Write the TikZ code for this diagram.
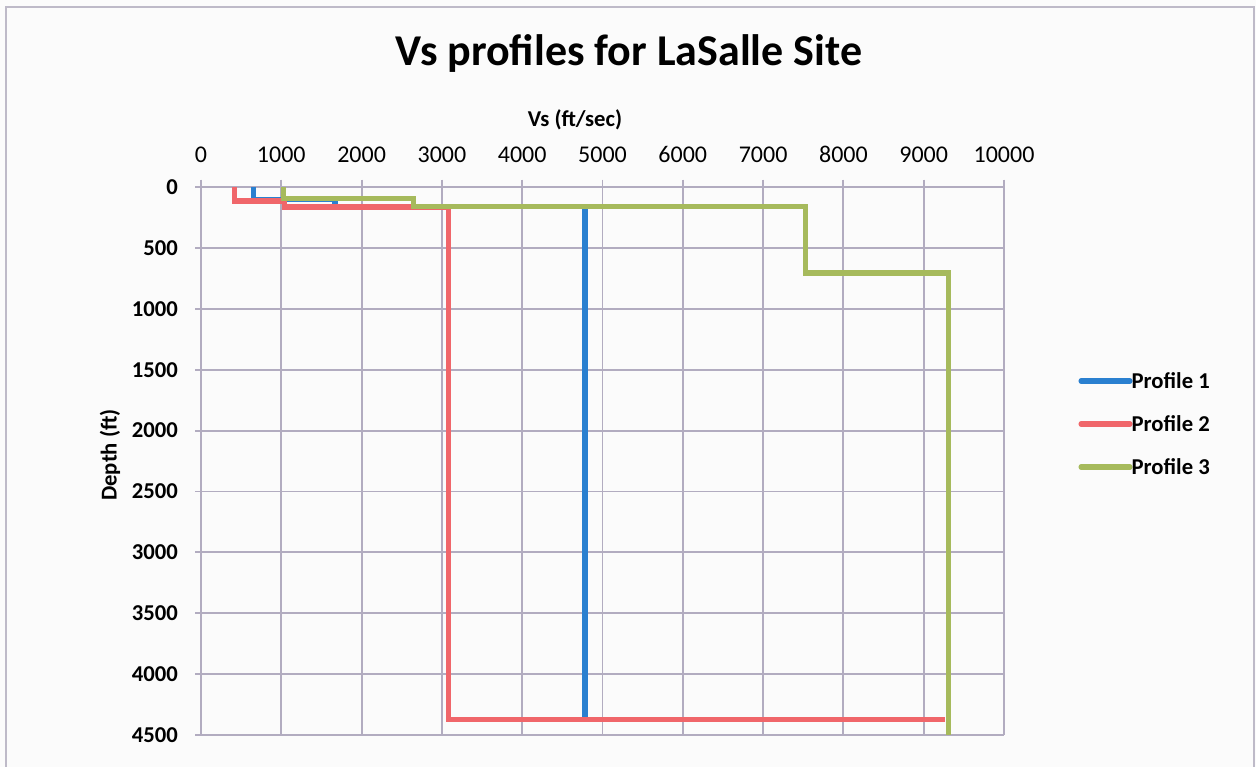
\documentclass[tikz,border=0pt]{standalone}
\usepackage{fontspec}
\setmainfont{Carlito}
\definecolor{gridgray}{RGB}{178,172,192}
\definecolor{frameGray}{RGB}{190,186,200}
\definecolor{bgwhite}{RGB}{251,251,251}
\definecolor{prof1}{RGB}{42,128,208}
\definecolor{prof2}{RGB}{240,102,106}
\definecolor{prof3}{RGB}{166,186,92}
\tikzset{
  gridline/.style={gridgray,line width=1.4pt},
  ticklab/.style={font=\fontsize{18}{20}\selectfont},
  axtitle/.style={font=\bfseries\fontsize{17}{20}\selectfont},
  profile/.style={line width=4pt,line join=miter},
  legline/.style={line width=3.8pt,line cap=round}
}
\begin{document}
\begin{tikzpicture}[x=0.75pt,y=-0.75pt]
  \useasboundingbox[fill=bgwhite] (0,0) rectangle (1256,767);
  \draw[frameGray,line width=1.5pt] (6,775) -- (6,7) -- (1254,7) -- (1254,775);
  \node[font=\bfseries\fontsize{33}{38}\selectfont] (title) at (629,53) {Vs profiles for LaSalle Site};
  \node[axtitle] (xtitle) at (575,120) {Vs (ft/sec)};
  \node[axtitle,rotate=90] (ytitle) at (110,455) {Depth (ft)};
  % data area
  \begin{scope}[shift={(201,187)},x={(0.060225pt,0)},y={(0,-0.09135pt)}]
    \foreach \v in {0,1000,...,10000} {
      \draw[gridline] (\v,-60) -- (\v,4500);
      \node[ticklab] (xl\v) at (\v,-265) {\v};
    }
    \foreach \d in {0,500,...,4500} {
      \draw[gridline] (-70,\d) -- (10000,\d);
      \node[ticklab,font=\bfseries\fontsize{17}{20}\selectfont,anchor=east] (yl\d) at (-230,\d) {\d};
    }
    \draw[profile,prof1] (650,0) -- (650,100) -- (1670,100) -- (1670,160)
      -- (4780,160) -- (4780,4370);
    \draw[profile,prof2] (420,0) -- (420,115) -- (1040,115) -- (1040,165)
      -- (3080,165) -- (3080,4370) -- (9270,4370);
    \draw[profile,prof3] (1030,0) -- (1030,95) -- (2650,95) -- (2650,160)
      -- (7530,160) -- (7530,705) -- (9310,705) -- (9310,4500);
  \end{scope}
  % legend
  \foreach \i/\y in {1/381,2/424,3/467} {
    \coordinate (lg\i a) at (1081,\y);
    \coordinate (lg\i b) at (1130,\y);
    \draw[legline,prof\i] (lg\i a) -- (lg\i b);
    \node[axtitle,anchor=west,inner sep=1pt] (lt\i) at (lg\i b) {Profile \i};
  }
\end{tikzpicture}
\end{document}
